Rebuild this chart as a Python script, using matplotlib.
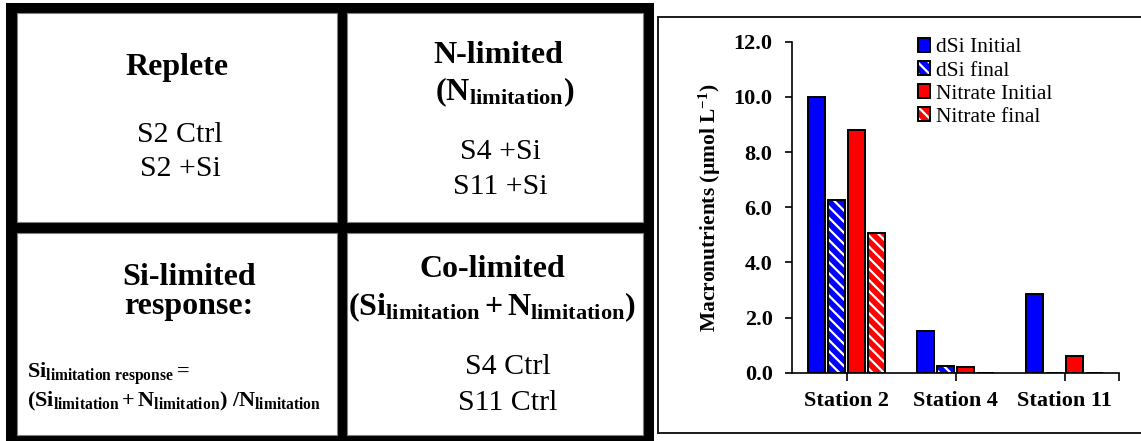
import matplotlib
matplotlib.use("Agg")
import matplotlib.pyplot as plt
from matplotlib.patches import Rectangle, Patch
import numpy as np

# Nutrient concentrations (µmol L-1) per station
stations = ["Station 2", "Station 4", "Station 11"]
dsi_initial = [10.0, 1.5, 2.85]
dsi_final = [6.25, 0.25, 0.0]
nitrate_initial = [8.8, 0.22, 0.6]
nitrate_final = [5.05, 0.0, 0.0]
series_labels = ["dSi Initial", "dSi final", "Nitrate Initial", "Nitrate final"]
y_ticks = [0, 2, 4, 6, 8, 10, 12]

plt.rcParams["font.family"] = "Liberation Serif"
plt.rcParams["mathtext.fontset"] = "custom"
plt.rcParams["mathtext.rm"] = "Liberation Serif"
plt.rcParams["mathtext.bf"] = "Liberation Serif:bold"
plt.rcParams["mathtext.it"] = "Liberation Serif:italic"
plt.rcParams["hatch.linewidth"] = 1.6

W, H = 1141, 441
fig = plt.figure(figsize=(W / 100, H / 100), dpi=100)

# ---- left: 2x2 classification grid (pixel coordinates) ----
bg = fig.add_axes([0, 0, 1, 1])
bg.set_xlim(0, W)
bg.set_ylim(H, 0)
bg.axis("off")

bg.add_patch(Rectangle((6, 3), 648, 445, facecolor="black", edgecolor="none"))
cells = [(17, 13, 320, 209), (347, 13, 296, 209), (17, 233, 320, 202), (347, 233, 296, 202)]
for cx, cy, cw, ch in cells:
    bg.add_patch(Rectangle((cx, cy), cw, ch, facecolor="white", edgecolor="#808080", lw=0.8))

# frame around the bar chart
frame_kw = dict(color="#1a1a1a", lw=1.4, solid_capstyle="projecting")
bg.plot([658, 658], [17, 433], **frame_kw)
bg.plot([658, W + 5], [17, 17], **frame_kw)
bg.plot([658, W + 5], [433, 433], **frame_kw)

HEAD = 23
BODY = 21.5
head = dict(fontsize=HEAD, fontweight="bold", ha="center", va="baseline")
body = dict(fontsize=BODY, ha="center", va="baseline")

bg.text(177, 75, "Replete", **head)
bg.text(180, 142, "S2 Ctrl", **body)
bg.text(180, 176, "S2 +Si", **body)

bg.text(498, 63, "N-limited", **head)
bg.text(505, 100, r"$\mathbf{(N_{limitation})}$", fontsize=HEAD, ha="center", va="baseline")
bg.text(500, 159, "S4 +Si", **body)
bg.text(500, 194, "S11 +Si", **body)

bg.text(189, 285, "Si-limited", **head)
bg.text(189, 314, "response:", **head)
bg.text(27, 378, r"$\mathbf{Si_{limitation\ response}=}$", fontsize=16, ha="left", va="baseline")
bg.text(27, 406, r"$\mathbf{(Si_{limitation}+N_{limitation})\ /N_{limitation}}$",
        fontsize=16, ha="left", va="baseline")

bg.text(492, 277, "Co-limited", **head)
bg.text(492, 315, r"$\mathbf{(Si_{limitation}+N_{limitation})}$", fontsize=HEAD,
        ha="center", va="baseline")
bg.text(508, 374, "S4 Ctrl", **body)
bg.text(508, 410, "S11 Ctrl", **body)

# ---- right: grouped bar chart ----
ax = fig.add_axes([792 / W, 1 - 372.7 / H, 327 / W, 331 / H])
x = np.arange(len(stations))
step = 0.1835
width = 0.147
offsets = (np.arange(4) - 1.5) * step
BLUE, RED = "#0000FF", "#FF0000"
EDGE_LW = 1.4
HATCH = "\\\\\\"

ax.bar(x + offsets[0], dsi_initial, width, color=BLUE, edgecolor="black", lw=EDGE_LW)
ax.bar(x + offsets[1], dsi_final, width, color=BLUE, edgecolor="white", hatch=HATCH, lw=0)
ax.bar(x + offsets[1], dsi_final, width, facecolor="none", edgecolor="black", lw=EDGE_LW)
ax.bar(x + offsets[2], nitrate_initial, width, color=RED, edgecolor="black", lw=EDGE_LW)
ax.bar(x + offsets[3], nitrate_final, width, color=RED, edgecolor="white", hatch=HATCH, lw=0)
ax.bar(x + offsets[3], nitrate_final, width, facecolor="none", edgecolor="black", lw=EDGE_LW)

ax.set_xlim(-0.5, 2.5)
ax.set_ylim(0, 12)
for side in ("top", "right"):
    ax.spines[side].set_visible(False)
for side in ("left", "bottom"):
    ax.spines[side].set_linewidth(1.2)
    ax.spines[side].set_color("black")

ax.set_yticks(y_ticks)
ax.set_yticklabels([f"{v:.1f}" for v in y_ticks])
ax.set_xticks(list(x) + [2.5])
ax.set_xticklabels(stations + [""])
ax.tick_params(axis="y", direction="out", length=5, width=1.2, pad=9, labelsize=16)
ax.tick_params(axis="x", direction="out", length=6, width=1.2, pad=7.5, labelsize=16)
for lbl in ax.get_xticklabels() + ax.get_yticklabels():
    lbl.set_fontweight("bold")

ax.set_ylabel(r"Macronutrients (µmol L$^{\mathbf{-1}}$)", fontsize=15.5, fontweight="bold")
ax.yaxis.set_label_coords(-0.211, 0.5)

handles = [
    Patch(facecolor=BLUE, edgecolor="black", lw=EDGE_LW),
    (Patch(facecolor=BLUE, edgecolor="white", hatch=HATCH, lw=0),
     Patch(facecolor="none", edgecolor="black", lw=EDGE_LW)),
    Patch(facecolor=RED, edgecolor="black", lw=EDGE_LW),
    (Patch(facecolor=RED, edgecolor="white", hatch=HATCH, lw=0),
     Patch(facecolor="none", edgecolor="black", lw=EDGE_LW)),
]
fig.legend(handles, series_labels, loc="upper left", bbox_to_anchor=(918 / W, 1 - 38 / H),
           frameon=False, fontsize=15.5, handlelength=0.55, handleheight=0.6,
           handletextpad=0.3, labelspacing=0.17, borderpad=0, borderaxespad=0)

fig.savefig("out.png", dpi=100)
